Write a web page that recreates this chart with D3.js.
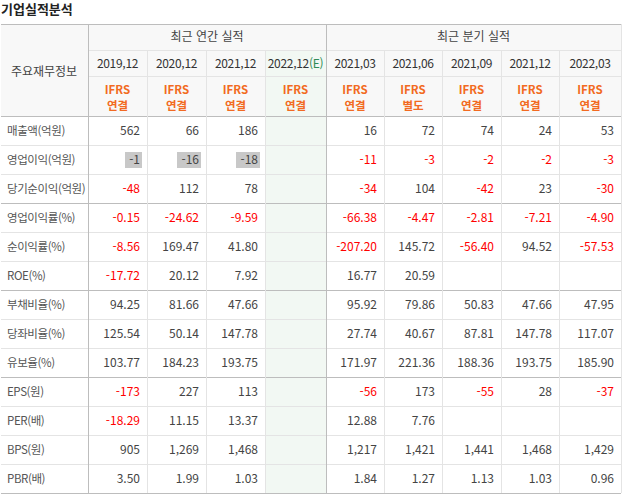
<!DOCTYPE html>
<html lang="ko">
<head>
<meta charset="UTF-8">
<script src="https://cdn.jsdelivr.net/npm/d3@7"></script>
<style>
  body { margin:0; background:#fff; }
  text { font-family:"Noto Sans CJK KR", sans-serif; font-size:12px; }
</style>
</head>
<body>
<svg width="622" height="494"></svg>
<script>
var rowLabels = ["매출액(억원)","영업이익(억원)","당기순이익(억원)","영업이익률(%)","순이익률(%)","ROE(%)",
  "부채비율(%)","당좌비율(%)","유보율(%)","EPS(원)","PER(배)","BPS(원)","PBR(배)"];
var periods = ["2019.12","2020.12","2021.12","2022.12","2021.03","2021.06","2021.09","2021.12","2022.03"];
var basis = ["연결","연결","연결","연결","연결","별도","연결","연결","연결"];
var values = [
  ["562","66","186","","16","72","74","24","53"],
  ["-1","-16","-18","","-11","-3","-2","-2","-3"],
  ["-48","112","78","","-34","104","-42","23","-30"],
  ["-0.15","-24.62","-9.59","","-66.38","-4.47","-2.81","-7.21","-4.90"],
  ["-8.56","169.47","41.80","","-207.20","145.72","-56.40","94.52","-57.53"],
  ["-17.72","20.12","7.92","","16.77","20.59","","",""],
  ["94.25","81.66","47.66","","95.92","79.86","50.83","47.66","47.95"],
  ["125.54","50.14","147.78","","27.74","40.67","87.81","147.78","117.07"],
  ["103.77","184.23","193.75","","171.97","221.36","188.36","193.75","185.90"],
  ["-173","227","113","","-56","173","-55","28","-37"],
  ["-18.29","11.15","13.37","","12.88","7.76","","",""],
  ["905","1,269","1,468","","1,217","1,421","1,441","1,468","1,429"],
  ["3.50","1.99","1.03","","1.84","1.27","1.13","1.03","0.96"]
];
var colEdges = [88,147,206,265,326,384,442,501,559,621];
var headTop = 24, h1 = 50, h2 = 76, dataTop = 116, rowH = 29;
var groupBreaks = [3,6,9];

var svg = d3.select("svg");
svg.append("text").attr("x",1).attr("y",14).style("font-size","13px").style("font-weight","bold")
  .attr("fill","#222").text("기업실적분석");

var rowY = function(i){ return dataTop + i*rowH; };

// backgrounds
svg.append("rect").attr("x",1).attr("y",headTop).attr("width",620).attr("height",dataTop-headTop).attr("fill","#f8f8f8");
svg.append("rect").attr("x",colEdges[3]).attr("y",h1).attr("width",colEdges[4]-colEdges[3])
  .attr("height",dataTop+rowH*13-h1).attr("fill","#f2f8f3");

// highlighted cells
values[1].slice(0,3).forEach(function(v,j){
  svg.append("rect").attr("x",colEdges[j+1]-8-v.length*7).attr("y",rowY(1)+7)
    .attr("width",v.length*7+3).attr("height",16).attr("fill","#c8c8c8");
});

// grid lines
var light = "#e4e4e4", dark = "#bdbdbd";
for (var i=1;i<=13;i++) {
  var yy = rowY(i)+0.5;
  svg.append("line").attr("x1",1).attr("x2",621).attr("y1",yy).attr("y2",yy)
    .attr("stroke", (groupBreaks.indexOf(i)>=0||i==13)?dark:light);
}
[headTop,dataTop].forEach(function(yy){
  svg.append("line").attr("x1",1).attr("x2",621).attr("y1",yy+0.5).attr("y2",yy+0.5).attr("stroke",dark);
});
[h1,h2].forEach(function(yy){
  svg.append("line").attr("x1",88).attr("x2",621).attr("y1",yy+0.5).attr("y2",yy+0.5).attr("stroke",light);
});
colEdges.forEach(function(x,k){
  var major = (k==0||k==4);
  svg.append("line").attr("x1",x+0.5).attr("x2",x+0.5)
    .attr("y1", major||k==9 ? headTop : h1).attr("y2",rowY(13))
    .attr("stroke", major ? dark : light);
});

// headers
svg.append("text").attr("x",44).attr("y",76).attr("text-anchor","middle").attr("fill","#444").text("주요재무정보");
svg.append("text").attr("x",(88+326)/2).attr("y",41).attr("text-anchor","middle").attr("fill","#444").text("최근 연간 실적");
svg.append("text").attr("x",(326+621)/2).attr("y",41).attr("text-anchor","middle").attr("fill","#444").text("최근 분기 실적");
periods.forEach(function(p,j){
  var cx = (colEdges[j]+colEdges[j+1])/2;
  var t = svg.append("text").attr("x",cx).attr("y",68).attr("text-anchor","middle").attr("fill","#333")
    .style("letter-spacing","-0.3px");
  t.append("tspan").text(p.replace(".",","));
  if (j==3) t.append("tspan").attr("fill","#2e8b57").text("(E)");
  svg.append("text").attr("x",cx).attr("y",94).attr("text-anchor","middle").attr("fill","#f26a21")
    .style("font-size","11.5px").style("font-weight","600").text("IFRS");
  svg.append("text").attr("x",cx).attr("y",110).attr("text-anchor","middle").attr("fill","#f26a21")
    .style("font-size","11.5px").style("font-weight","600").text(basis[j]);
});

// rows
rowLabels.forEach(function(lab,i){
  svg.append("text").attr("x",7).attr("y",rowY(i)+19).attr("fill","#555")
    .style("font-size","11.5px").style("letter-spacing","-0.4px").text(lab);
  values[i].forEach(function(v,j){
    if (!v) return;
    var neg = v.charAt(0)=="-" && !(i==1 && j<3);
    svg.append("text").attr("x",colEdges[j+1]-7).attr("y",rowY(i)+19).attr("text-anchor","end")
      .attr("fill", neg ? "#ff0000" : "#444").text(v);
  });
});
</script>
</body>
</html>
